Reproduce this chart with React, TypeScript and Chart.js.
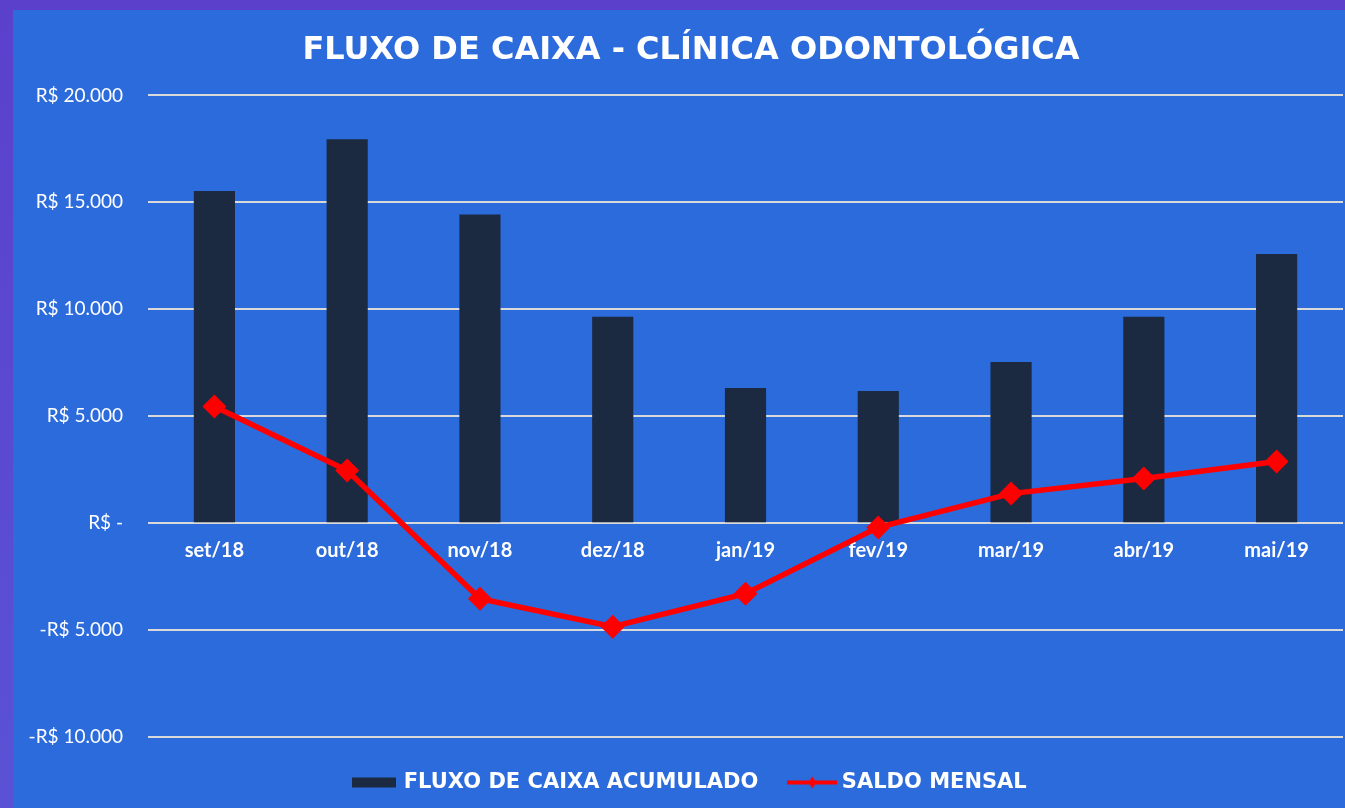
import React, { useEffect, useRef } from "react";
import { Chart, registerables } from "chart.js";

Chart.register(...registerables);

const categories = ["set/18", "out/18", "nov/18", "dez/18", "jan/19", "fev/19", "mar/19", "abr/19", "mai/19"];
const fluxoAcumulado = [15530, 17950, 14430, 9650, 6320, 6180, 7530, 9650, 12590];
const saldoMensal = [5450, 2460, -3530, -4840, -3300, -200, 1380, 2090, 2880];
const yTickValues = [-10000, -5000, 0, 5000, 10000, 15000, 20000];
const yTickLabels = ["-R$ 10.000", "-R$ 5.000", "R$ -", "R$ 5.000", "R$ 10.000", "R$ 15.000", "R$ 20.000"];
const seriesNames = ["FLUXO DE CAIXA ACUMULADO", "SALDO MENSAL"];
const titleText = "FLUXO DE CAIXA - CLÍNICA ODONTOLÓGICA";

const BAR_COLOR = "#1B2941";
const LINE_COLOR = "#FF0000";
const BG = "#2C6BDC";
const FONT = "Lato, 'Open Sans', sans-serif";
const WIDE_FONT = "'DejaVu Sans', Verdana, sans-serif";

function makeBarIcon() {
  const c = document.createElement("canvas");
  c.width = 44;
  c.height = 14;
  const ctx = c.getContext("2d")!;
  ctx.fillStyle = BAR_COLOR;
  ctx.fillRect(0, 2, 44, 10);
  return c;
}

function makeLineIcon() {
  const c = document.createElement("canvas");
  c.width = 50;
  c.height = 14;
  const ctx = c.getContext("2d")!;
  ctx.strokeStyle = LINE_COLOR;
  ctx.lineWidth = 4;
  ctx.beginPath();
  ctx.moveTo(0, 7);
  ctx.lineTo(50, 7);
  ctx.stroke();
  ctx.fillStyle = LINE_COLOR;
  ctx.beginPath();
  ctx.moveTo(25, 1);
  ctx.lineTo(29, 7);
  ctx.lineTo(25, 13);
  ctx.lineTo(21, 7);
  ctx.closePath();
  ctx.fill();
  return c;
}

export default function App() {
  const ref = useRef<HTMLCanvasElement | null>(null);

  useEffect(() => {
    if (!ref.current) return;
    const icons = [makeBarIcon(), makeLineIcon()];
    const chart = new Chart(ref.current, {
      type: "bar",
      data: {
        labels: categories,
        datasets: [
          {
            type: "bar",
            label: seriesNames[0],
            data: fluxoAcumulado,
            backgroundColor: BAR_COLOR,
            borderWidth: 0,
            barPercentage: 0.62,
            categoryPercentage: 0.5,
            order: 1,
          },
          {
            type: "line",
            label: seriesNames[1],
            data: saldoMensal,
            borderColor: LINE_COLOR,
            backgroundColor: LINE_COLOR,
            borderWidth: 5.5,
            pointStyle: "rectRot",
            pointRadius: 12,
            pointBorderWidth: 0,
            pointBackgroundColor: LINE_COLOR,
            tension: 0,
            order: 0,
          },
        ] as any,
      },
      options: {
        responsive: true,
        maintainAspectRatio: false,
        animation: false,
        layout: { padding: { left: 14, right: 0, top: 0, bottom: 5 } },
        plugins: {
          title: {
            display: true,
            text: titleText,
            color: "#FFFFFF",
            font: { family: WIDE_FONT, size: 32, weight: "bold" },
            padding: { top: 21, bottom: 26 },
          },
          legend: {
            position: "bottom",
            labels: {
              color: "#FFFFFF",
              font: { family: WIDE_FONT, size: 21, weight: "bold" },
              usePointStyle: true,
              pointStyleWidth: 38,
              padding: 35,
              generateLabels: (ch: any) =>
                ch.data.datasets.map((ds: any, i: number) => ({
                  text: ds.label,
                  pointStyle: icons[i],
                  fillStyle: "transparent",
                  strokeStyle: "transparent",
                  lineWidth: 0,
                  fontColor: "#FFFFFF",
                  hidden: false,
                  datasetIndex: i,
                })),
            },
          },
          tooltip: { enabled: false },
        },
        scales: {
          x: {
            position: { y: 0 } as any,
            grid: { display: false, drawTicks: false },
            border: { display: false },
            ticks: {
              color: "#FFFFFF",
              font: { family: FONT, size: 20, weight: "bold" },
              padding: 15,
            },
          },
          y: {
            min: -10000,
            max: 20000,
            afterBuildTicks: (scale: any) => {
              scale.ticks = yTickValues.map((v) => ({ value: v }));
            },
            afterFit: (scale: any) => {
              scale.width = 121;
            },
            grid: { color: "#D9D9D9", lineWidth: 2, drawTicks: false },
            border: { display: false },
            ticks: {
              color: "#FFFFFF",
              font: { family: FONT, size: 19 },
              padding: 25,
              callback: (v: any) => {
                const idx = yTickValues.indexOf(Number(v));
                return idx >= 0 ? yTickLabels[idx] : "";
              },
            },
          },
        },
      } as any,
    });
    return () => chart.destroy();
  }, []);

  return (
    <div style={{ position: "fixed", inset: 0, background: "linear-gradient(180deg, #5B40CC 0%, #5A52D6 100%)" }}>
      <div style={{ position: "absolute", left: 13, top: 10, width: 1332, height: 798, background: BG, overflow: "hidden" }}>
        <div style={{ position: "absolute", left: 0, top: 0, width: 1342, height: 798 }}>
          <canvas ref={ref} />
        </div>
      </div>
    </div>
  );
}
